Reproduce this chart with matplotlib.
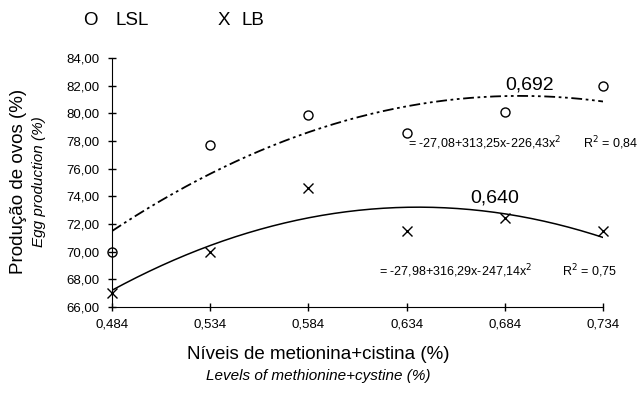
import numpy as np
import matplotlib
matplotlib.use("Agg")
import matplotlib.pyplot as plt

plt.rcParams['font.family'] = ['Liberation Sans', 'DejaVu Sans']

# níveis de met+cis e produção de ovos
levels = [0.484, 0.534, 0.584, 0.634, 0.684, 0.734]
lsl = [70.0, 77.7, 79.9, 78.6, 80.1, 82.0]
lb = [67.0, 70.0, 74.6, 71.5, 72.4, 71.5]

# coeficientes das regressões (a + b x + c x^2)
coef_lsl = [-27.08, 313.25, -226.43]
coef_lb = [-27.98, 316.29, -247.14]

ticks_x = ["0,484", "0,534", "0,584", "0,634", "0,684", "0,734"]
ticks_y = [66, 68, 70, 72, 74, 76, 78, 80, 82, 84]

fig = plt.figure(figsize=(6.43, 3.94), dpi=100)
ax = fig.add_axes([0.1742, 0.2208, 0.7636, 0.632])

xx = np.linspace(levels[0], levels[-1], 200)
ax.plot(xx, coef_lsl[0] + coef_lsl[1]*xx + coef_lsl[2]*xx**2, color='black',
        lw=1.3, dashes=(6, 2, 1.5, 2, 1.5, 2))
ax.plot(xx, coef_lb[0] + coef_lb[1]*xx + coef_lb[2]*xx**2, color='black', lw=1.1)

ax.plot(levels, lsl, 'o', mfc='none', mec='black', ms=6.5, mew=1, clip_on=False)
ax.plot(levels, lb, 'x', color='black', ms=7, mew=1, clip_on=False)

ax.set_xlim(0.484, 0.734)
ax.set_ylim(66, 84)
ax.set_xticks(levels)
ax.set_xticklabels(ticks_x, fontsize=9.5)
ax.set_yticks(ticks_y)
ax.set_yticklabels(["%d,00" % v for v in ticks_y], fontsize=9.5)
ax.tick_params(direction='inout', length=6, width=1)
ax.tick_params(axis='y', pad=6)
ax.tick_params(axis='x', pad=5)
for s in ['top', 'right']:
    ax.spines[s].set_visible(False)

ax.text(0.6965, 81.4, "0,692", fontsize=14, ha='center', va='bottom')
ax.text(0.679, 73.25, "0,640", fontsize=14, ha='center', va='bottom')
ax.text(0.6346, 77.85, "= -27,08+313,25x-226,43x$^2$", fontsize=9, ha='left', va='center')
ax.text(0.7236, 77.85, "R$^2$ = 0,84", fontsize=9, ha='left', va='center', clip_on=False)
ax.text(0.620, 68.6, "= -27,98+316,29x-247,14x$^2$", fontsize=9, ha='left', va='center')
ax.text(0.713, 68.6, "R$^2$ = 0,75", fontsize=9, ha='left', va='center', clip_on=False)

fig.text(0.129, 0.947, "O", fontsize=13.5, ha='left', va='center')
fig.text(0.179, 0.947, "LSL", fontsize=13.5, ha='left', va='center')
fig.text(0.339, 0.947, "X", fontsize=13.5, ha='left', va='center')
fig.text(0.376, 0.947, "LB", fontsize=13.5, ha='left', va='center')

fig.text(0.028, 0.54, "Produção de ovos (%)", fontsize=13.5, rotation=90, ha='center', va='center')
fig.text(0.061, 0.54, "Egg production (%)", fontsize=11, style='italic', rotation=90,
         ha='center', va='center')
fig.text(0.495, 0.099, "Níveis de metionina+cistina (%)", fontsize=13.5, ha='center', va='center')
fig.text(0.495, 0.045, "Levels of methionine+cystine (%)", fontsize=11, style='italic',
         ha='center', va='center')

fig.savefig("out.png", dpi=100)
